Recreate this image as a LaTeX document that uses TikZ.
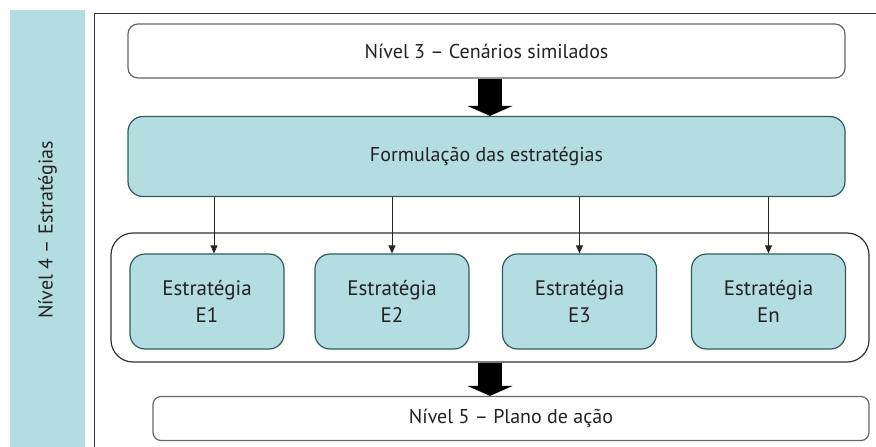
\documentclass[tikz,border=0pt]{standalone}
\usepackage{fontspec}
\setmainfont{PT Sans}
\usetikzlibrary{arrows.meta}
\definecolor{bandblue}{HTML}{B3DDE0}
\definecolor{boxblue}{HTML}{B3DDE0}
\definecolor{tealedge}{HTML}{2E5C5E}
\definecolor{grayedge}{HTML}{666666}
\definecolor{txt}{HTML}{222222}
\tikzset{
  lbl/.style={font=\fontsize{20}{27}\selectfont, text=txt, align=center},
  whitebox/.style={lbl, draw=grayedge, line width=1.2pt, fill=white, inner sep=0pt},
  bluebox/.style={lbl, draw=tealedge, line width=1.2pt, fill=boxblue, inner sep=0pt},
  stratbox/.style={bluebox, font=\fontsize{21}{27}\selectfont, minimum width=154pt, minimum height=95pt, rounded corners=15pt},
  bigarrow/.style={line width=24pt, draw=black, -{Triangle[width=45pt,length=10pt]}},
  thinarrow/.style={line width=0.9pt, draw=black!85, -{Triangle[width=7pt,length=8pt]}}
}
\begin{document}
\begin{tikzpicture}[x=1pt,y=-1pt]
\useasboundingbox (0,0) rectangle (876,447);
% left band
\fill[bandblue] (10,10) rectangle (85,447);
\node[lbl, rotate=90] (side) at (47.5,230) {Nível 4 – Estratégias};
% frame
\draw[line width=1pt, black!80] (876,13) -- (94,13) -- (94,447);
% boxes
\node[whitebox, minimum width=717pt, minimum height=54pt, rounded corners=10pt] (n3) at (486.5,51) {Nível 3 – Cenários similados};
\node[bluebox, minimum width=717pt, minimum height=80pt, rounded corners=15pt] (form) at (486.5,156.5) {Formulação das estratégias};
\node[draw=black!80, line width=1.2pt, fill=white, minimum width=758pt, minimum height=129pt, rounded corners=22pt] (cont) at (490,297.5) {};
\node[stratbox] (e1) at (207,301.5) {Estratégia\\E1};
\node[stratbox] (e2) at (392,301.5) {Estratégia\\E2};
\node[stratbox] (e3) at (579.5,301.5) {Estratégia\\E3};
\node[stratbox] (en) at (768.5,301.5) {Estratégia\\En};
\node[whitebox, minimum width=716pt, minimum height=44pt, rounded corners=8pt] (n5) at (511,418.5) {Nível 5 – Plano de ação};
% arrows
\draw[bigarrow] (n3.south -| 490,0) -- (form.north -| 490,0);
\draw[bigarrow] (cont.south) -- (cont.south |- n5.north);
\draw[thinarrow] ([xshift=7pt]e1.north |- form.south) -- ([xshift=7pt]e1.north);
\draw[thinarrow] (e2.north |- form.south) -- (e2.north);
\draw[thinarrow] (e3.north |- form.south) -- (e3.north);
\draw[thinarrow] (en.north |- form.south) -- (en.north);
\end{tikzpicture}
\end{document}
